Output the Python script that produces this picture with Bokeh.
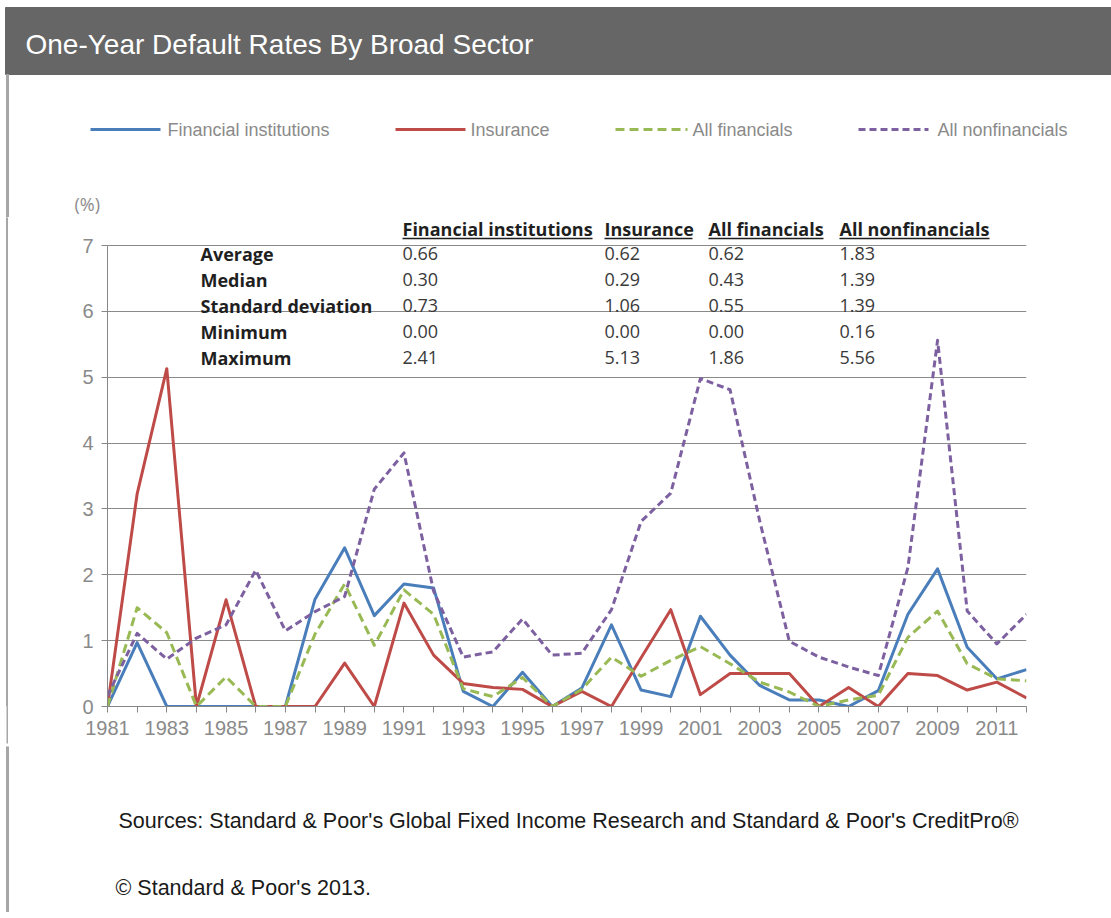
from bokeh.plotting import figure
from bokeh.models import Range1d, FixedTicker
from bokeh.layouts import row
from bokeh.core.properties import value
from bokeh.embed import file_html
from bokeh.resources import INLINE

# ---------------- data ----------------
years = list(range(1981, 2013))
fin_inst = [0.00, 0.97, 0.00, 0.00, 0.00, 0.00, 0.00, 1.63, 2.41, 1.38, 1.86, 1.80,
            0.23, 0.00, 0.52, 0.00, 0.28, 1.24, 0.25, 0.15, 1.37, 0.78, 0.32, 0.10,
            0.10, 0.00, 0.24, 1.40, 2.09, 0.90, 0.42, 0.56]
insurance = [0.00, 3.23, 5.13, 0.00, 1.62, 0.00, 0.00, 0.00, 0.66, 0.00, 1.57, 0.78,
             0.35, 0.29, 0.26, 0.00, 0.23, 0.00, 0.74, 1.47, 0.18, 0.50, 0.50, 0.50,
             0.00, 0.29, 0.00, 0.50, 0.47, 0.25, 0.37, 0.13]
all_fin = [0.00, 1.50, 1.12, 0.00, 0.45, 0.00, 0.00, 1.10, 1.86, 0.93, 1.77, 1.40,
           0.27, 0.15, 0.44, 0.00, 0.26, 0.75, 0.46, 0.70, 0.91, 0.65, 0.37, 0.22,
           0.00, 0.10, 0.17, 1.05, 1.45, 0.65, 0.42, 0.39]
all_nonfin = [0.16, 1.11, 0.72, 1.04, 1.24, 2.07, 1.15, 1.44, 1.67, 3.30, 3.85, 1.75,
              0.75, 0.83, 1.33, 0.78, 0.81, 1.47, 2.81, 3.24, 4.98, 4.81, 2.82, 0.99,
              0.75, 0.60, 0.47, 2.11, 5.56, 1.45, 0.95, 1.40]

series_names = ["Financial institutions", "Insurance", "All financials", "All nonfinancials"]
series_values = [fin_inst, insurance, all_fin, all_nonfin]

stat_labels = ["Average", "Median", "Standard deviation", "Minimum", "Maximum"]
stats_fin_inst = [0.66, 0.30, 0.73, 0.00, 2.41]
stats_insurance = [0.62, 0.29, 1.06, 0.00, 5.13]
stats_all_fin = [0.62, 0.43, 0.55, 0.00, 1.86]
stats_all_nonfin = [1.83, 1.39, 1.39, 0.16, 5.56]
stats_columns = [stats_fin_inst, stats_insurance, stats_all_fin, stats_all_nonfin]

y_ticks = [0, 1, 2, 3, 4, 5, 6, 7]
x_tick_labels = {y: (str(y) if (y - 1981) % 2 == 0 else "") for y in years}

TITLE = "One-Year Default Rates By Broad Sector"
UNIT = "(%)"
SOURCE = "Sources: Standard & Poor's Global Fixed Income Research and Standard & Poor's CreditPro®"
COPYRIGHT = "© Standard & Poor's 2013."

# ---------------- styles ----------------
series_colors = ["#4A7EBB", "#BE4B48", "#98B954", "#7D60A0"]
series_dash = ["solid", "solid", "9 5", "7 4"]
GRAY_TXT = "#8a8a8a"
AXIS_GRAY = "#878787"
BORDER_GRAY = "#a6a6a6"
BAR_GRAY = "#666666"
ARIAL = "Liberation Sans"
CAL = "Open Sans"

# page geometry (pixel coords of the page)
PAGE_W = 1111
STRIP_W = 8
HEAD_Y1, MAIN_Y1, FOOT_Y1 = 217, 746, 912
FRAME_L, FRAME_R, FRAME_B = 107, 1026, 706
Y7_PX = 245                     # pixel row of the value 7


def flat_fig(width, height, x0, x1, y0, y1, xaxis=None):
    f = figure(width=width, height=height, x_range=Range1d(x0, x1),
               y_range=Range1d(y1, y0), toolbar_location=None, output_backend="svg",
               x_axis_location=xaxis, y_axis_location=None, min_border=0,
               outline_line_color=None, background_fill_color="white",
               border_fill_color="white")
    f.grid.visible = False
    return f


# ---------------- header ----------------
hp = flat_fig(PAGE_W, HEAD_Y1, 0, PAGE_W, 0, HEAD_Y1)
hp.quad(left=5, right=PAGE_W, top=7, bottom=74, color=BAR_GRAY)
hp.quad(left=6, right=8, top=74, bottom=HEAD_Y1, color=BORDER_GRAY)
hp.text(x=[25], y=[43.5], text=[TITLE], text_color="white", text_font=value(ARIAL),
        text_font_size="28px", text_baseline="middle")

leg_line_x = [(90, 160), (395, 465), (615, 687), (858, 928)]
leg_text_x = [167, 470, 692, 937]
for i, name in enumerate(series_names):
    hp.line(x=list(leg_line_x[i]), y=[129, 129], line_color=series_colors[i],
            line_width=3, line_dash=series_dash[i])
    hp.text(x=[leg_text_x[i]], y=[129], text=[name], text_color=GRAY_TXT,
            text_font=value(ARIAL), text_font_size="18px", text_baseline="middle")

hp.text(x=[74], y=[203], text=[UNIT], text_color="#8c8c8c", text_font=value(CAL),
        text_font_size="18px", text_baseline="middle")

# ---------------- main plot ----------------
px_per_year = (FRAME_R - FRAME_L) / (years[-1] - years[0])
px_per_unit = (FRAME_B - Y7_PX) / 7.0


def px2x(px):
    return years[0] + (px - FRAME_L) / px_per_year


def py2y(py):
    return (FRAME_B - py) / px_per_unit


MAIN_W = PAGE_W - STRIP_W
MAIN_H = MAIN_Y1 - HEAD_Y1
p = figure(width=MAIN_W, height=MAIN_H,
           x_range=Range1d(years[0], years[-1]), y_range=Range1d(0, py2y(HEAD_Y1)),
           toolbar_location=None, output_backend="svg",
           min_border_left=FRAME_L - STRIP_W, min_border_right=PAGE_W - FRAME_R,
           min_border_top=0, min_border_bottom=MAIN_Y1 - FRAME_B,
           outline_line_color=None, background_fill_color="white",
           border_fill_color="white")

p.xgrid.visible = False
p.ygrid.grid_line_color = "#8a8a8a"
p.ygrid.grid_line_width = 1
p.xaxis.ticker = FixedTicker(ticks=years)
p.xaxis.major_label_overrides = x_tick_labels
p.yaxis.ticker = FixedTicker(ticks=y_ticks)
p.yaxis.bounds = (0, 7)
p.ygrid.ticker = FixedTicker(ticks=y_ticks)
for ax in (p.xaxis, p.yaxis):
    ax.axis_line_color = AXIS_GRAY
    ax.major_tick_line_color = AXIS_GRAY
    ax.minor_tick_line_color = None
    ax.major_tick_in = 0
    ax.major_tick_out = 6
    ax.major_label_text_font = ARIAL
    ax.major_label_text_font_size = "20px"
    ax.major_label_text_color = GRAY_TXT
p.xaxis.major_label_standoff = 8
p.yaxis.major_label_standoff = 8

for i, vals in enumerate(series_values):
    p.line(years, vals, line_color=series_colors[i], line_width=3,
           line_dash=series_dash[i], line_join="round")

# statistics table
col_x = [402, 604, 708, 839]
col_end = [592, 692, 823, 989]
row_mid = [253, 279, 305, 331, 357]
row_y = [py2y(m) for m in row_mid]
p.text(x=[px2x(c) for c in col_x], y=[py2y(228.5)] * 4, text=series_names,
       text_color="#1f1f1f", text_font=value(CAL), text_font_size="18px",
       text_font_style="bold", text_baseline="middle")
p.segment(x0=[px2x(c) for c in col_x], x1=[px2x(c) for c in col_end],
          y0=[py2y(238)] * 4, y1=[py2y(238)] * 4,
          line_color="#1f1f1f", line_width=1.5)
p.text(x=[px2x(200)] * 5, y=row_y, text=stat_labels, text_color="#1f1f1f",
       text_font=value(CAL), text_font_size="18px", text_font_style="bold",
       text_baseline="middle")
for j, col in enumerate(stats_columns):
    p.text(x=[px2x(col_x[j])] * 5, y=row_y, text=["%.2f" % v for v in col],
           text_color="#3a3a3a", text_font=value(CAL), text_font_size="18px",
           text_baseline="middle")

# left border strip beside the plot (its long tick continues the border below the frame)
sp = flat_fig(STRIP_W, MAIN_H, 0, STRIP_W, HEAD_Y1, MAIN_Y1, xaxis="below")
sp.quad(left=6, right=8, top=HEAD_Y1, bottom=MAIN_Y1, color=BORDER_GRAY)
sp.xaxis.ticker = FixedTicker(ticks=[7])
sp.xaxis.major_label_overrides = {7: ""}
sp.xaxis.major_label_text_font_size = "1px"
sp.xaxis.major_label_standoff = 0
sp.xaxis.axis_line_color = None
sp.xaxis.minor_tick_line_color = None
sp.xaxis.major_tick_in = 0
sp.xaxis.major_tick_out = 37
sp.xaxis.major_tick_line_width = 2
sp.xaxis.major_tick_line_color = BORDER_GRAY
main_row = row(sp, p, spacing=0)

# ---------------- footer ----------------
fp = flat_fig(PAGE_W, FOOT_Y1 - MAIN_Y1, 0, PAGE_W, MAIN_Y1, FOOT_Y1)
fp.quad(left=6, right=8, top=MAIN_Y1, bottom=FOOT_Y1, color=BORDER_GRAY)
fp.text(x=[118], y=[820], text=[SOURCE], text_color="#1a1a1a", text_font=value(ARIAL),
        text_font_size="21.5px", text_baseline="middle")
fp.text(x=[115], y=[887], text=[COPYRIGHT], text_color="#1a1a1a", text_font=value(ARIAL),
        text_font_size="21.5px", text_baseline="middle")

open("out.html", "w").write(file_html([hp, main_row, fp], INLINE))
